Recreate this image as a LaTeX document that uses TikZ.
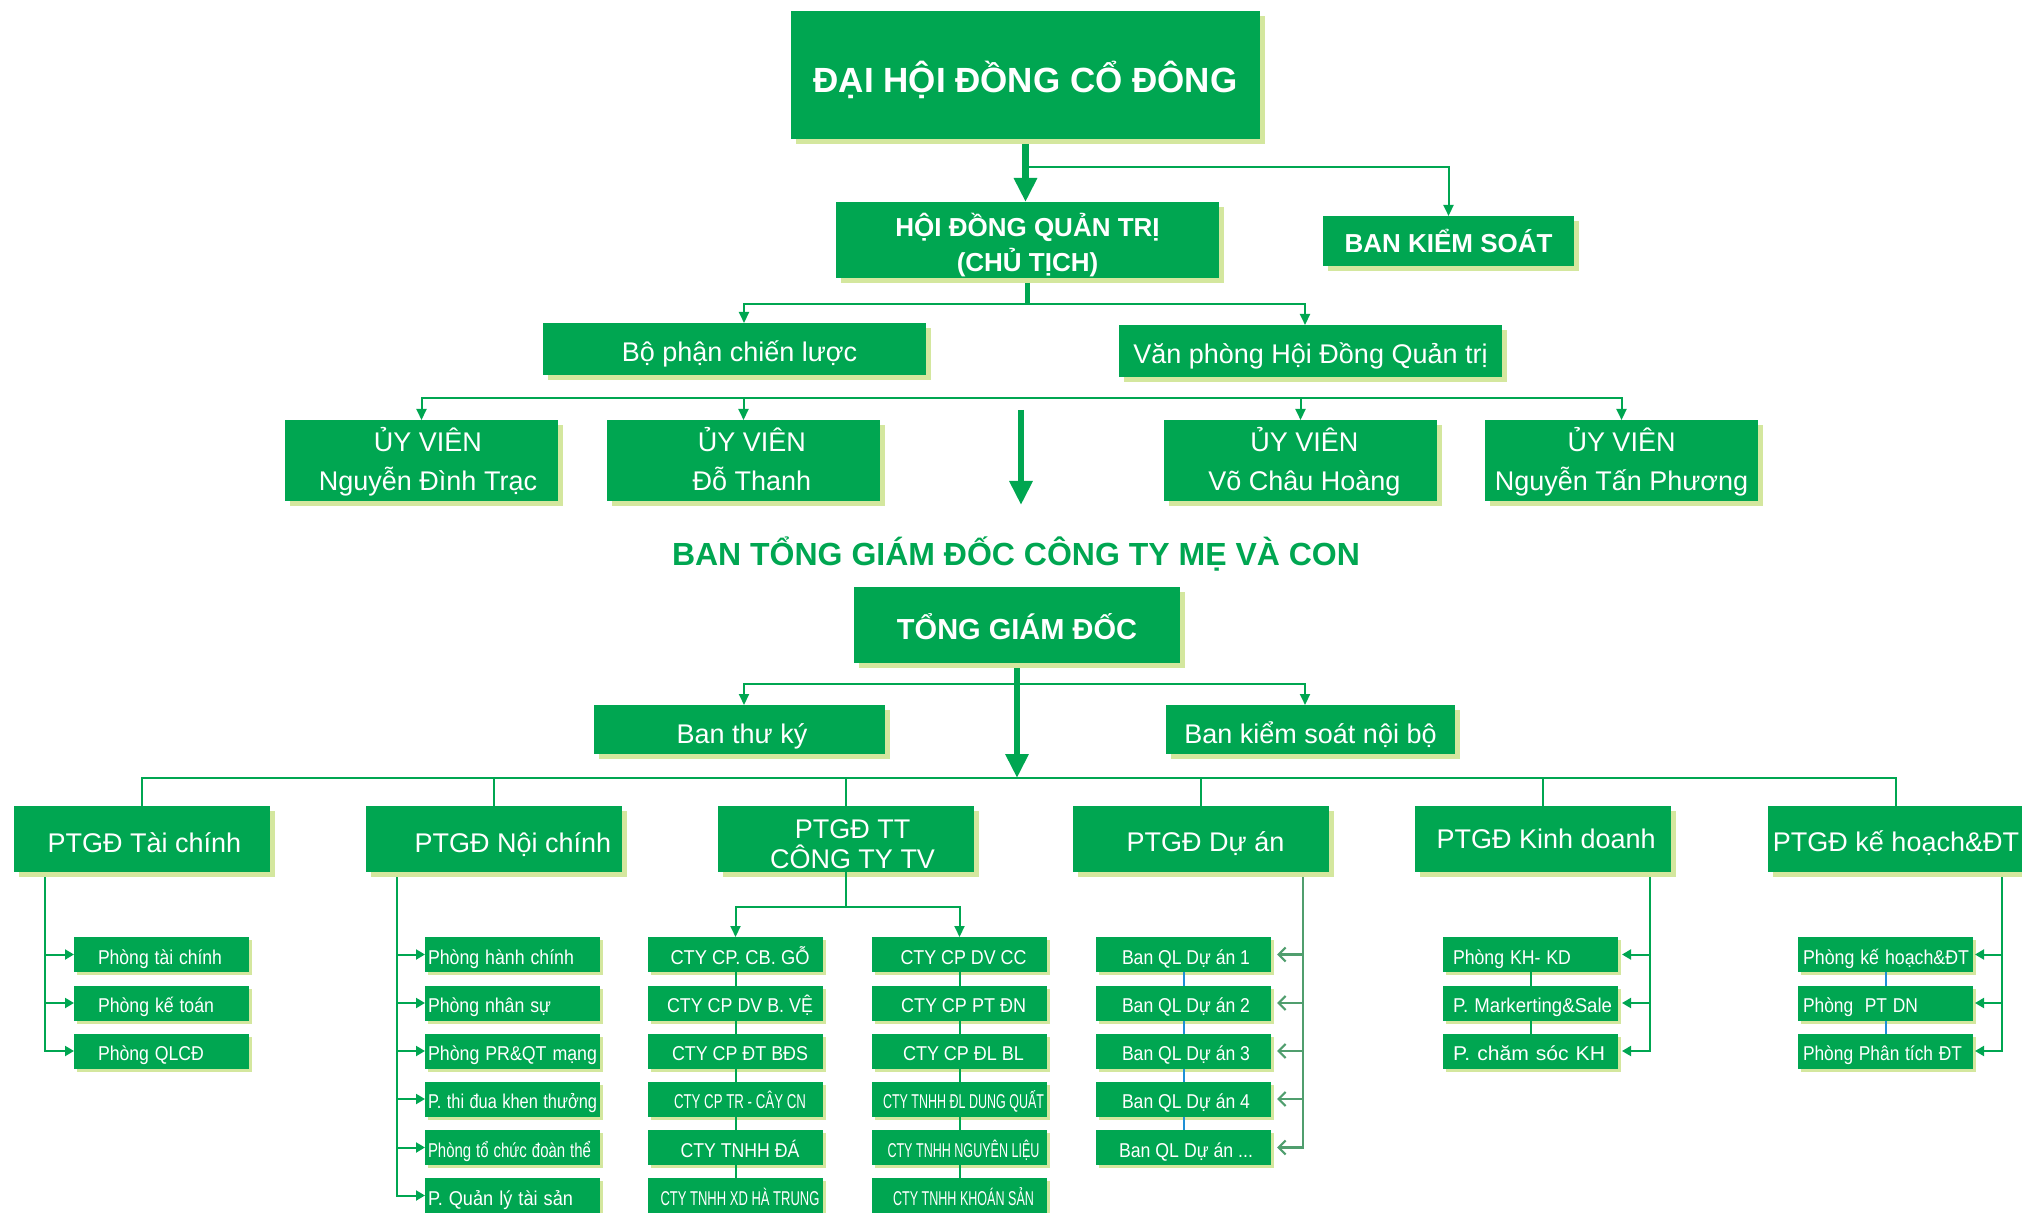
\documentclass[tikz,border=0pt]{standalone}
\usepackage{fontspec}
\setmainfont{Liberation Sans}
\usepackage{graphicx}
\usetikzlibrary{arrows.meta,shadows}
\definecolor{bgreen}{RGB}{0,166,81}
\definecolor{shc}{RGB}{212,231,158}
\definecolor{lblue}{RGB}{30,144,214}
\definecolor{mgreen}{RGB}{80,158,110}
\newlength\pxu \setlength\pxu{0.5pt}
\newcommand\fitw[2]{\resizebox{#1\pxu}{\height}{#2}}
\newcommand\myfs[2]{\fontsize{#1}{#2}\selectfont}
\begin{document}
\begin{tikzpicture}[x=0.5pt,y=-0.5pt,
 base/.style={fill=bgreen,text=white,inner sep=0pt,outer sep=0pt},
 mbox/.style={base,drop shadow={shadow xshift=2.5pt,shadow yshift=-2.5pt,opacity=1,fill=shc}},
 sbox/.style={base,drop shadow={shadow xshift=1.5pt,shadow yshift=-1.5pt,opacity=1,fill=shc},minimum width=87.5pt,minimum height=17.5pt,font=\myfs{10}{12},text height=9.8pt,text depth=0pt},
 sL/.style 2 args={sbox,align=left,inner xsep=#1,text width=#2},
 pbox/.style={mbox,minimum width=128pt,minimum height=33pt,align=center,font=\myfs{13.5}{15}},
 psing/.style={pbox,text height=13.7pt,text depth=0pt},
 uvbox/.style={mbox,minimum width=136.5pt,minimum height=40.5pt,align=center,font=\myfs{13.5}{19.5},text depth=5.5pt},
 conn/.style={draw=bgreen,line width=1pt},
 ar/.style={-{Triangle[length=5.5pt,width=5pt]}},
 sar/.style={-{Triangle[length=4.5pt,width=5pt]}},
 big/.style={draw=bgreen,line width=3.2pt,-{Triangle[length=12pt,width=11pt]}},
 dconn/.style={draw=mgreen,line width=1.1pt},
 dar/.style={-{Straight Barb[length=3.5pt,width=7pt]}},
 bconn/.style={draw=lblue,line width=1pt}
]
\useasboundingbox (0,0) rectangle (2022,1213);
\clip (0,0) rectangle (2022,1213);

% ---------- top levels ----------
\node[mbox,minimum width=234.5pt,minimum height=64pt,font=\bfseries\myfs{17.5}{21},text height=17.5pt,text depth=0pt] (dhd) at (1025.5,75) {ĐẠI HỘI ĐỒNG CỔ ĐÔNG};
\node[mbox,minimum width=191.5pt,minimum height=38pt,align=center,font=\bfseries\myfs{13}{17.5}] (hdqt) at (1027.5,240) {\rule{0pt}{16.5pt}HỘI ĐỒNG QUẢN TRỊ\\(CHỦ TỊCH)};
\node[mbox,minimum width=125.5pt,minimum height=25pt,font=\bfseries\myfs{13}{16},text height=11.5pt,text depth=0pt] (bks) at (1448.5,241) {BAN KIỂM SOÁT};
\node[mbox,minimum width=191.5pt,minimum height=26pt,font=\myfs{13.5}{16},text height=12.4pt,text depth=0pt] (bpcl) at (734.5,349) {\hspace*{5pt}Bộ phận chiến lược};
\node[mbox,minimum width=191.5pt,minimum height=26pt,font=\myfs{13.5}{16},text height=12.4pt,text depth=0pt] (vp) at (1310.5,351) {Văn phòng Hội Đồng Quản trị};
\node[uvbox] (uv1) at (421.5,460.5) {\rule{0pt}{15.5pt}\hspace*{6.5pt}ỦY VIÊN\\\hspace*{6.5pt}Nguyễn Đình Trạc};
\node[uvbox] (uv2) at (743.5,460.5) {\rule{0pt}{15.5pt}\hspace*{8.4pt}ỦY VIÊN\\\hspace*{8.4pt}Đỗ Thanh};
\node[uvbox] (uv3) at (1300.5,460.5) {\rule{0pt}{15.5pt}\hspace*{3.9pt}ỦY VIÊN\\\hspace*{3.9pt}Võ Châu Hoàng};
\node[uvbox] (uv4) at (1621.5,460.5) {\rule{0pt}{15.5pt}ỦY VIÊN\\Nguyễn Tấn Phương};
\node[text=bgreen,inner sep=0pt,font=\bfseries\myfs{16}{19}] (title) at (1016,554) {BAN TỔNG GIÁM ĐỐC CÔNG TY MẸ VÀ CON};
\node[mbox,minimum width=163pt,minimum height=38pt,font=\bfseries\myfs{14.5}{17},text height=14.4pt,text depth=0pt] (tgd) at (1017,625) {TỔNG GIÁM ĐỐC};
\node[mbox,minimum width=145.5pt,minimum height=24.5pt,font=\myfs{13.5}{16},text height=13.7pt,text depth=0pt] (btk) at (739.5,729.5) {\hspace*{2.5pt}Ban thư ký};
\node[mbox,minimum width=144.5pt,minimum height=24.5pt,font=\myfs{13.5}{16},text height=13.7pt,text depth=0pt] (bksnb) at (1310.5,729.5) {Ban kiểm soát nội bộ};

% ---------- PTGD level ----------
\node[psing] (ptc) at (142,839) {\hspace*{2.5pt}PTGĐ Tài chính};
\node[psing] (pnc) at (494,839) {\hspace*{19pt}PTGĐ Nội chính};
\node[pbox] (ptt) at (846,839) {\rule{0pt}{14.2pt}\hspace*{6.5pt}PTGĐ TT\\\hspace*{6.5pt}CÔNG TY TV};
\node[psing,text height=12.6pt] (pda) at (1201,839) {\hspace*{4.5pt}PTGĐ Dự án};
\node[pbox] (pkd) at (1543,839) {\hspace*{3.2pt}PTGĐ Kinh doanh};
\node[psing,text height=12.4pt] (pkh) at (1896,839) {PTGĐ kế hoạch\&ĐT};

% ---------- sub boxes ----------
\node[sL={12pt}{63.5pt}] (tc1) at (161.5,954.5) {\fitw{124}{Phòng tài chính}};
\node[sL={12pt}{63.5pt}] (tc2) at (161.5,1003) {\fitw{116}{Phòng kế toán}};
\node[sL={12pt}{63.5pt}] (tc3) at (161.5,1051) {\fitw{106}{Phòng QLCĐ}};

\node[sL={1.5pt}{84.5pt}] (nc1) at (512.5,954.5) {\fitw{146}{Phòng hành chính}};
\node[sL={1.5pt}{84.5pt}] (nc2) at (512.5,1003) {\fitw{123}{Phòng nhân sự}};
\node[sL={1.5pt}{84.5pt}] (nc3) at (512.5,1051) {\fitw{169}{Phòng PR\&QT mạng}};
\node[sL={1.5pt}{84.5pt}] (nc4) at (512.5,1099) {\fitw{169}{P. thi đua khen thưởng}};
\node[sL={1.5pt}{84.5pt}] (nc5) at (512.5,1147.5) {\fitw{163}{Phòng tổ chức đoàn thể}};
\node[sL={1.5pt}{84.5pt}] (nc6) at (512.5,1195.5) {\fitw{145}{P. Quản lý tài sản}};

\node[sbox] (c11) at (735.5,954.5) {\hspace*{4.5pt}\fitw{139}{CTY CP. CB. GỖ}};
\node[sbox] (c12) at (735.5,1003) {\hspace*{4.5pt}\fitw{146}{CTY CP DV B. VỆ}};
\node[sbox] (c13) at (735.5,1051) {\hspace*{4.5pt}\fitw{136}{CTY CP ĐT BĐS}};
\node[sbox] (c14) at (735.5,1099) {\hspace*{4.5pt}\fitw{132}{CTY CP TR - CÂY CN}};
\node[sbox] (c15) at (735.5,1147.5) {\hspace*{4.5pt}\fitw{119}{CTY TNHH ĐÁ}};
\node[sbox] (c16) at (735.5,1195.5) {\hspace*{4.5pt}\fitw{159}{CTY TNHH XD HÀ TRUNG}};

\node[sbox] (c21) at (959.5,954.5) {\hspace*{4pt}\fitw{126}{CTY CP DV CC}};
\node[sbox] (c22) at (959.5,1003) {\hspace*{4pt}\fitw{125}{CTY CP PT ĐN}};
\node[sbox] (c23) at (959.5,1051) {\hspace*{4pt}\fitw{121}{CTY CP ĐL BL}};
\node[sbox] (c24) at (959.5,1099) {\hspace*{4pt}\fitw{161}{CTY TNHH ĐL DUNG QUẤT}};
\node[sbox] (c25) at (959.5,1147.5) {\hspace*{4pt}\fitw{152}{CTY TNHH NGUYÊN LIỆU}};
\node[sbox] (c26) at (959.5,1195.5) {\hspace*{4pt}\fitw{141}{CTY TNHH KHOÁN SẢN}};

\node[sbox] (da1) at (1183.5,954.5) {\hspace*{2.5pt}\fitw{128}{Ban QL Dự án 1}};
\node[sbox] (da2) at (1183.5,1003) {\hspace*{2.5pt}\fitw{128}{Ban QL Dự án 2}};
\node[sbox] (da3) at (1183.5,1051) {\hspace*{2.5pt}\fitw{128}{Ban QL Dự án 3}};
\node[sbox] (da4) at (1183.5,1099) {\hspace*{2.5pt}\fitw{128}{Ban QL Dự án 4}};
\node[sbox] (da5) at (1183.5,1147.5) {\hspace*{2.5pt}\fitw{134}{Ban QL Dự án ...}};

\node[sL={5pt}{77.5pt}] (kd1) at (1530.5,954.5) {\fitw{118}{Phòng KH- KD}};
\node[sL={5pt}{77.5pt}] (kd2) at (1530.5,1003) {\fitw{159}{P. Markerting\&Sale}};
\node[sL={5pt}{77.5pt}] (kd3) at (1530.5,1051) {\fitw{152}{P. chăm sóc KH}};

\node[sL={2.5pt}{82.5pt}] (kh1) at (1885.5,954.5) {\fitw{166}{Phòng kế hoạch\&ĐT}};
\node[sL={2.5pt}{82.5pt}] (kh2) at (1885.5,1003) {\fitw{115}{Phòng\ \ PT DN}};
\node[sL={2.5pt}{82.5pt}] (kh3) at (1885.5,1051) {\fitw{159}{Phòng Phân tích ĐT}};

% ---------- connectors: top ----------
\draw[big,shorten <=2.5pt] (dhd.south) -- (dhd.south |- hdqt.north);
\draw[conn,ar] (dhd.south) ++(0,28) -| (bks.north);
\draw[bgreen,line width=2.5pt,shorten <=2.5pt] (hdqt.south) -- ++(0,26);
\draw[conn,ar] (hdqt.south) ++(0,26) -| ([xshift=4.75pt]bpcl.north);
\draw[conn,ar] (hdqt.south) ++(0,26) -| ([xshift=-2.75pt]vp.north);
\coordinate (ub) at (1021,398);
\foreach \n in {uv1,uv2,uv3,uv4} \draw[conn,ar] (ub) -| (\n.north);
\coordinate (fa1) at (1021,410);
\coordinate (fa2) at (1021,505);
\draw[big] (fa1) -- (fa2);

% ---------- connectors: TGD ----------
\coordinate (b3) at (1017,684);
\coordinate (b4) at (1017,778);
\draw[big,shorten <=2.5pt] (tgd.south) -- (b4);
\draw[conn,ar] (b3) -| ([xshift=2.25pt]btk.north);
\draw[conn,ar] (b3) -| ([xshift=-2.75pt]bksnb.north);
\foreach \n in {ptc,pnc,ptt,pda,pkd,pkh} \draw[conn] (b4) -| (\n.north);

% ---------- connectors: sub levels ----------
\coordinate (b5) at (846,907);
\draw[conn] (ptt.south) -- (b5);
\draw[conn,ar] (b5) -| (c11.north);
\draw[conn,ar] (b5) -| (c21.north);

\coordinate (tcT) at (45,877);
\foreach \n in {tc1,tc2,tc3} \draw[conn,sar] (tcT) |- (\n.west);
\coordinate (ncT) at (397,877);
\foreach \n in {nc1,nc2,nc3,nc4,nc5,nc6} \draw[conn,sar] (ncT) |- (\n.west);
\coordinate (daT) at (1303,877);
\foreach \n in {da1,da2,da3,da4,da5} \draw[dconn,dar,shorten >=3pt] (daT) |- (\n.east);
\coordinate (kdT) at (1650,877);
\foreach \n in {kd1,kd2,kd3} \draw[conn,sar,shorten >=2pt] (kdT) |- (\n.east);
\coordinate (khT) at (2002,877);
\foreach \n in {kh1,kh2,kh3} \draw[conn,sar,shorten >=1pt] (khT) |- (\n.east);

\foreach \a/\b in {c11/c12,c12/c13,c13/c14,c14/c15,c15/c16,c21/c22,c22/c23,c23/c24,c24/c25,c25/c26,kd1/kd2,kd2/kd3}
  \draw[conn] (\a.south) -- (\b.north);
\foreach \a/\b in {da1/da2,da2/da3,da3/da4,da4/da5,kh1/kh2,kh2/kh3}
  \draw[bconn] (\a.south) -- (\b.north);
\end{tikzpicture}
\end{document}
